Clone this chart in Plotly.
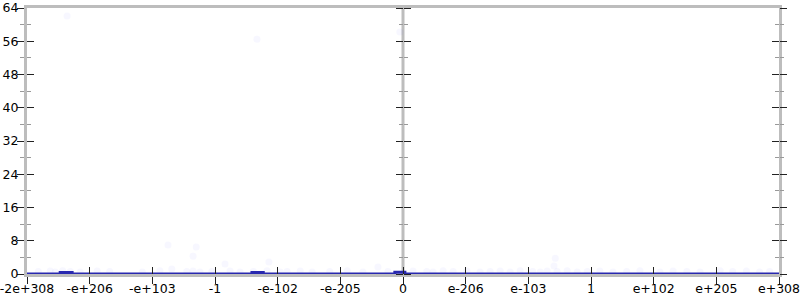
import plotly.graph_objects as go

# x positions are in "tick index" units (0..12), labels below
tick_pos = list(range(13))
tick_labels = ["-2e+308", "-e+206", "-e+103", "-1", "-e-102", "-e-205", "0",
               "e-206", "e-103", "1", "e+102", "e+205", "e+308"]
y_major = [0, 8, 16, 24, 32, 40, 48, 56, 64]

# histogram-like step line
line_x = [0, 0.53, 0.72, 3.59, 3.77, 5.87, 6.03, 12]
line_y = [0, 0.35, 0, 0.35, 0, 0.4, 0, 0]

# faint scattered points
pts_x = [0.64, 3.67, 5.95, 2.25, 2.70, 2.65, 3.16, 3.86, 5.60, 8.43, 8.41, 2.31,
         0.18, 0.37, 0.45, 0.57, 0.69, 0.85, 1.12, 1.32, 1.84, 2.12, 2.55, 2.65,
         2.76, 2.95, 3.24, 3.40, 3.61, 3.83, 4.04, 4.15, 4.36, 4.55, 4.83, 5.11,
         5.36, 5.76, 6.16, 6.38, 6.48, 6.64, 6.80, 7.02, 7.23, 7.39, 7.55, 7.71,
         7.87, 8.07, 8.19, 8.30, 8.46, 8.62, 8.78, 8.94, 9.14, 9.35, 9.57, 9.78,
         10.10, 10.31, 10.53, 10.74, 11.06, 11.26, 11.48, 11.69, 11.85]
pts_y = [62.1, 56.5, 58.2, 7.0, 6.5, 4.3, 2.4, 2.9, 1.7, 3.8, 1.9, 1.2,
         0.6, 0.7, 0.5, 0.8, 0.6, 0.5, 0.7, 0.6, 0.5, 0.8, 0.6, 0.7,
         0.5, 0.6, 0.7, 0.5, 0.6, 0.8, 0.5, 0.6, 0.7, 0.5, 0.6, 0.8,
         0.5, 0.6, 0.7, 0.6, 0.5, 0.8, 0.6, 0.7, 0.5, 0.6, 0.7, 0.5,
         0.8, 0.6, 0.5, 0.7, 0.6, 0.8, 0.5, 0.6, 0.7, 0.5, 0.6, 0.8,
         0.5, 0.7, 0.6, 0.5, 0.8, 0.6, 0.7, 0.5, 0.6]

fig = go.Figure()
fig.add_trace(go.Scatter(x=pts_x, y=pts_y, mode="markers",
                         marker=dict(size=7, color="rgba(90,90,255,0.05)"),
                         hoverinfo="skip"))
fig.add_trace(go.Scatter(x=line_x, y=line_y, mode="lines", line_shape="hv",
                         line=dict(color="rgb(40,40,175)", width=3),
                         hoverinfo="skip"))
# empty helper traces so the overlay tick axes get drawn
for xa, ya in [("x2", "y"), ("x", "y2"), ("x", "y3"), ("x", "y4"),
               ("x", "y5"), ("x", "y6")]:
    fig.add_trace(go.Scatter(x=[None], y=[None], xaxis=xa, yaxis=ya,
                             mode="markers", hoverinfo="skip",
                             showlegend=False))

axis_gray = "#bdbdbd"
font = dict(family="DejaVu Sans", size=12.5, color="black")
tick_col = "#222"
minor_col = "#999"


def tick_yaxis(side, ticks, position=None):
    d = dict(range=[0, 64], tickvals=y_major, overlaying="y", side=side,
             showgrid=False, zeroline=False, showline=False,
             ticks=ticks, ticklen=7, tickwidth=1.2, tickcolor=tick_col,
             minor=dict(dtick=4, ticks=ticks, ticklen=4, tickcolor=minor_col,
                        showgrid=False),
             showticklabels=False, fixedrange=True, automargin=False)
    if position is not None:
        d["anchor"] = "free"
        d["position"] = position
    else:
        d["anchor"] = "x"
    return d


fig.update_layout(
    width=800, height=300,
    margin=dict(l=27, r=21, t=8, b=26),
    paper_bgcolor="white", plot_bgcolor="white",
    showlegend=False, font=font,
    shapes=[dict(type="line", xref="x", yref="paper", x0=6, x1=6, y0=0, y1=1,
                 line=dict(color=axis_gray, width=3), layer="below")],
    xaxis=dict(range=[0, 12], tickvals=tick_pos, ticktext=tick_labels,
               showgrid=False, zeroline=False, showline=True, mirror=True,
               linecolor=axis_gray, linewidth=3,
               ticks="outside", ticklen=7, tickwidth=1.2, tickcolor=tick_col,
               tickfont=font, ticklabeloverflow="allow", ticklabelstandoff=-6,
               fixedrange=True, automargin=False),
    xaxis2=dict(range=[0, 12], tickvals=tick_pos, overlaying="x", side="bottom",
                anchor="y", showgrid=False, zeroline=False, showline=False,
                ticks="inside", ticklen=7, tickwidth=1.2, tickcolor=tick_col,
                showticklabels=False, fixedrange=True, automargin=False),
    yaxis=dict(range=[0, 64], tickvals=y_major,
               showgrid=False, zeroline=False, showline=True, mirror=True,
               linecolor=axis_gray, linewidth=3,
               ticks="outside", ticklen=7, tickwidth=1.2, tickcolor=tick_col,
               minor=dict(dtick=4, ticks="outside", ticklen=4,
                          tickcolor=minor_col, showgrid=False),
               tickfont=font, ticklabeloverflow="allow", ticklabelstandoff=-4,
               fixedrange=True, automargin=False),
    yaxis2=tick_yaxis("left", "inside"),
    yaxis3=tick_yaxis("left", "outside", position=0.5),
    yaxis4=tick_yaxis("right", "outside", position=0.5),
    yaxis5=tick_yaxis("right", "outside"),
    yaxis6=tick_yaxis("right", "inside"),
)
fig.write_html("out.html")
